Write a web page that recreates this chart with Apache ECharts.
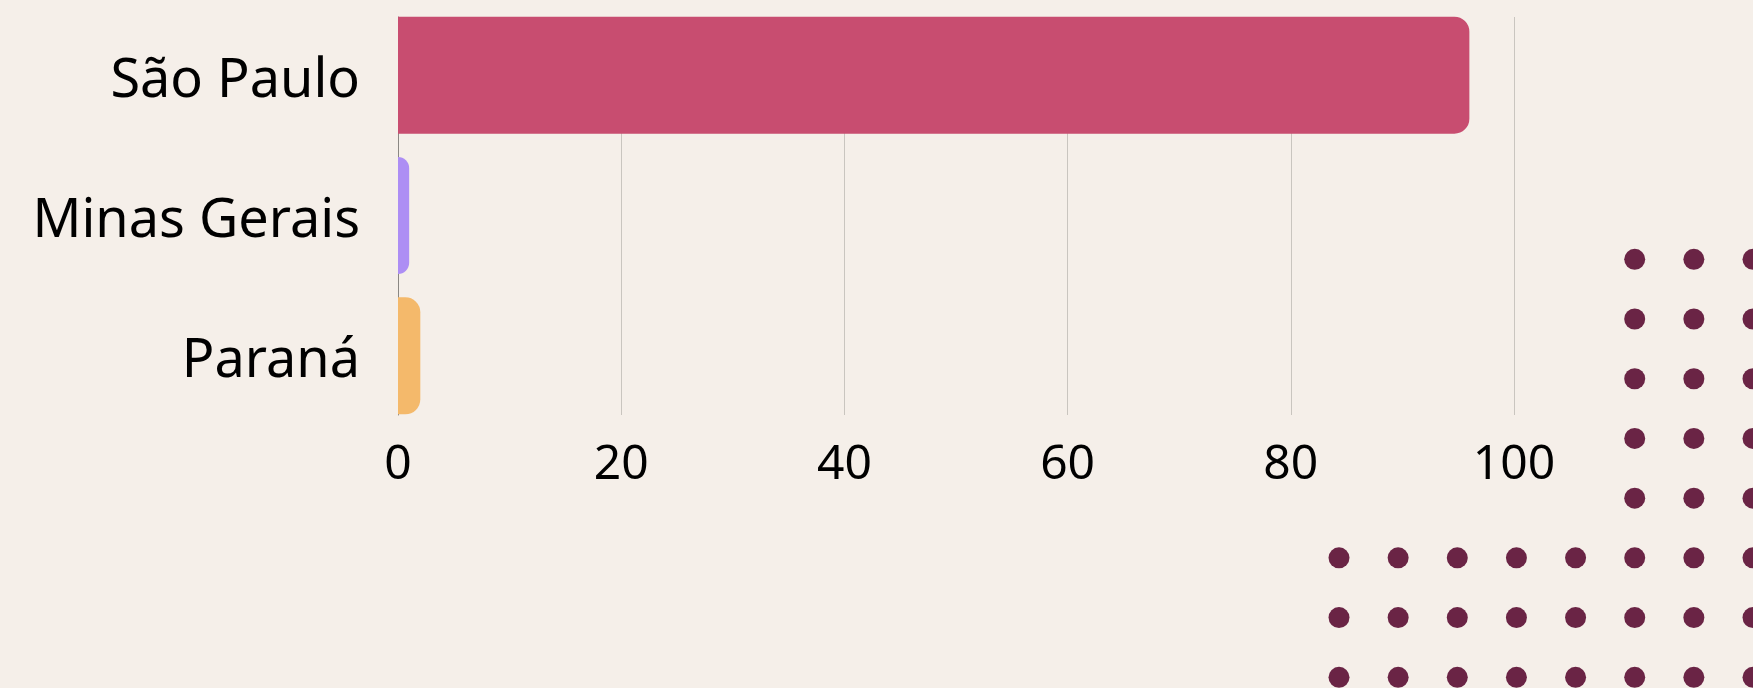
<html>

<head>
  <meta charset="utf-8">
  <script src="https://cdnjs.cloudflare.com/ajax/libs/echarts/6.0.0/echarts.min.js"></script>
  <title>Estados</title>
</head>

<body style="margin: 0; background: #f5efe9;">
  <div id="main" style="width: 1753px; height: 688px;"></div>
  <script>
    // dados
    var estados = ['São Paulo', 'Minas Gerais', 'Paraná'];
    var valores = [96, 1, 2];
    var cores = ['#c84d70', '#ad8ef4', '#f4b96b'];
    var xMin = 0, xMax = 100, xPasso = 20;

    // pontinhos decorativos (coluna, linha)
    var colsSup = [5, 6, 7];
    var linhasSup = [0, 1, 2, 3, 4];
    var colsInf = [0, 1, 2, 3, 4, 5, 6, 7];
    var linhasInf = [5, 6, 7];

    var pontos = [];
    for (let r of linhasSup) for (let c of colsSup) pontos.push([c, r]);
    for (let r of linhasInf) for (let c of colsInf) pontos.push([c, r]);

    var fonte = '"Noto Sans", sans-serif';
    var myChart = echarts.init(document.getElementById('main'));

    var option = {
      backgroundColor: '#f5efe9',
      animation: false,
      grid: [
        { left: 398, width: 1116, top: 5, height: 421 },
        { left: 398, width: 1116, top: 17, height: 398 },
        { left: 1339, width: 417.7, top: 259.3, height: 418 }
      ],
      xAxis: [
        { gridIndex: 0, type: 'value', min: xMin, max: xMax, show: false },
        {
          gridIndex: 1, type: 'value', min: xMin, max: xMax, interval: xPasso,
          axisLine: { show: false }, axisTick: { show: false },
          splitLine: { lineStyle: { color: '#c9c5bf', width: 1 } },
          axisLabel: { color: '#000', fontSize: 48, fontFamily: fonte, margin: 26 }
        },
        { gridIndex: 2, type: 'value', min: 0, max: 7, show: false }
      ],
      yAxis: [
        {
          gridIndex: 0, type: 'category', data: estados, inverse: true,
          axisLine: { show: false }, axisTick: { show: false },
          axisLabel: {
            margin: 38,
            formatter: function (v) { return '{a|' + v + '}'; },
            rich: { a: { color: '#000', fontSize: 54, fontFamily: fonte, padding: [12, 0, 0, 0] } }
          }
        },
        {
          gridIndex: 1, type: 'category', data: estados, inverse: true,
          axisLine: { lineStyle: { color: '#8a8783', width: 1 } },
          axisTick: { show: false }, axisLabel: { show: false }
        },
        { gridIndex: 2, type: 'value', min: 0, max: 7, inverse: true, show: false }
      ],
      series: [
        {
          type: 'bar',
          xAxisIndex: 0, yAxisIndex: 0,
          barWidth: 117,
          z: 3,
          data: valores.map(function (v, i) {
            return { value: v, itemStyle: { color: cores[i], borderRadius: [0, 15, 15, 0] } };
          })
        },
        {
          type: 'scatter',
          xAxisIndex: 2, yAxisIndex: 2,
          symbolSize: 21,
          clip: false,
          itemStyle: { color: '#6a2445', opacity: 1 },
          data: pontos
        }
      ]
    };

    myChart.setOption(option);
  </script>
</body>

</html>
